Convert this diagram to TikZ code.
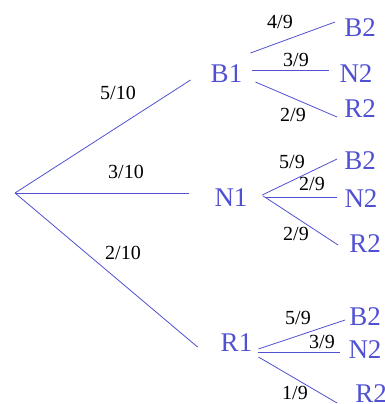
\documentclass[tikz,border=0pt]{standalone}
\usepackage{fontspec}
\setmainfont{Liberation Serif}
\usepackage{tikz}
\definecolor{treeblue}{RGB}{80,80,210}

\begin{document}
\begin{tikzpicture}[x=1pt, y=-1pt,
  lvl/.style={text=treeblue, inner sep=0pt,
    font=\fontsize{27}{27}\selectfont},
  prob/.style={inner sep=0pt, font=\fontsize{20}{20}\selectfont},
  branch/.style={draw=treeblue, line width=0.8pt}]
\useasboundingbox (0,0) rectangle (385,404);
\coordinate (o) at (15,193);
% first draw
\node[lvl] (b1) at (226.5,74) {B1};
\node[lvl] (n1) at (231,198) {N1};
\node[lvl] (r1) at (236.5,343) {R1};
\draw[branch] (o) -- ([shift={(-20,6)}]b1.west);
\draw[branch] (o) -- ([shift={(-25.5,-5)}]n1.west);
\draw[branch] (o) -- ([shift={(-23,4)}]r1.west);
\node[prob] (pb1) at (118,93) {5/10};
\node[prob] (pn1) at (126,172) {3/10};
\node[prob] (pr1) at (123,253) {2/10};
% second draw after B1
\node[lvl] (b1b2) at (360,28) {B2};
\node[lvl] (b1n2) at (356,74) {N2};
\node[lvl] (b1r2) at (360,109) {R2};
\draw[branch] ([shift={(8,-21)}]b1.east) -- ([shift={(-9,-6)}]b1b2.west);
\draw[branch] ([shift={(10,-4)}]b1.east) -- ([shift={(-10.5,-4)}]b1n2.west);
\draw[branch] ([shift={(13,8)}]b1.east) -- ([shift={(-7,8)}]b1r2.west);
\node[prob] (pb1b2) at (280,22) {4/9};
\node[prob] (pb1n2) at (296,60) {3/9};
\node[prob] (pb1r2) at (293,115) {2/9};
% second draw after N1
\node[lvl] (n1b2) at (360,161) {B2};
\node[lvl] (n1n2) at (361,199) {N2};
\node[lvl] (n1r2) at (365,244) {R2};
\draw[branch] ([shift={(14.5,-3)}]n1.east) -- ([shift={(-7,-2)}]n1b2.west);
\draw[branch] ([shift={(18.5,-1)}]n1.east) -- ([shift={(-7.5,-2)}]n1n2.west);
\draw[branch] ([shift={(15.5,-2)}]n1.east) -- ([shift={(-11,1)}]n1r2.west);
\node[prob] (pn1b2) at (292,162) {5/9};
\node[prob] (pn1n2) at (312,184) {2/9};
\node[prob] (pn1r2) at (296,234) {2/9};
% second draw after R1
\node[lvl] (r1b2) at (365,317) {B2};
\node[lvl] (r1n2) at (365,350) {N2};
\node[lvl] (r1r2) at (371,394) {R2};
\draw[branch] ([shift={(6,6)}]r1.east) -- ([shift={(-4,3)}]r1b2.west);
\draw[branch] ([shift={(6,9)}]r1.east) -- ([shift={(-8.5,2)}]r1n2.west);
\draw[branch] ([shift={(6,14)}]r1.east) -- ([shift={(-18,9)}]r1r2.west);
\node[prob] (pr1b2) at (298,318) {5/9};
\node[prob] (pr1n2) at (322,342) {3/9};
\node[prob] (pr1r2) at (295,393) {1/9};
\end{tikzpicture}
\end{document}
